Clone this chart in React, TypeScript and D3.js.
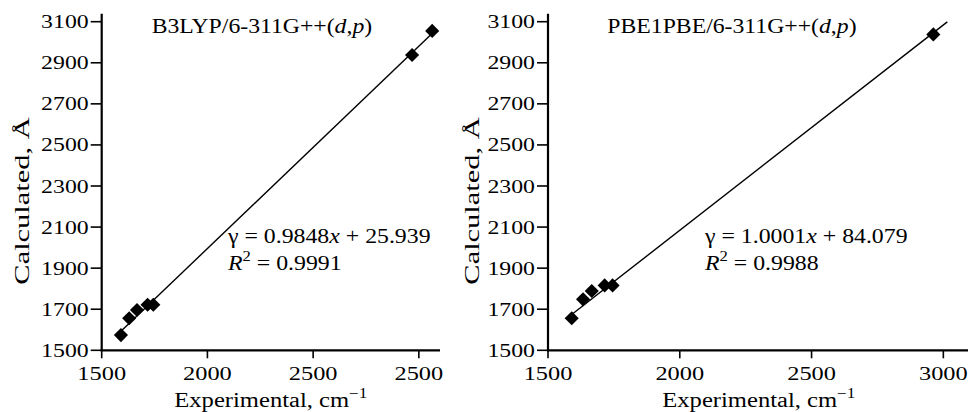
import React from 'react';
import * as d3 from 'd3';

const b3lypExp = [1591, 1630, 1667, 1717, 1744, 2968, 3063];
const b3lypCalc = [1574, 1656, 1696, 1722, 1722, 2938, 3055];
const pbeExp = [1590, 1633, 1666, 1715, 1745, 2962];
const pbeCalc = [1656, 1748, 1789, 1816, 1816, 3038];

// fit lines: slope, intercept, x extent
const b3lypFit = { slope: 0.9848, intercept: 25.939, from: 1591, to: 3085 };
const pbeFit = { slope: 1.0001, intercept: 84.079, from: 1590, to: 3015 };

const xTicks = [1500, 2000, 2500, 3000];
const leftXLabels = ['1500', '2000', '2500', '2500'];
const rightXLabels = ['1500', '2000', '2500', '3000'];
const yTicks = [1500, 1700, 1900, 2100, 2300, 2500, 2700, 2900, 3100];

const FONT = '"Liberation Serif", "Times New Roman", serif';

// text stretched horizontally like the scanned figure
function SText({ x, y, sx = 1, rotate = 0, size, anchor = 'start', children }: any) {
  const tf = `translate(${x},${y})${rotate ? ` rotate(${rotate})` : ''} scale(${sx},1)`;
  return (
    <text transform={tf} fontSize={size} textAnchor={anchor} fontFamily={FONT} fill="#000">
      {children}
    </text>
  );
}

interface PanelProps {
  exp: number[];
  calc: number[];
  fit: { slope: number; intercept: number; from: number; to: number };
  xRange: [number, number];
  xLabels: string[];
  title: string;
  titleX: number;
  eqX: number;
  yLabelX: number;
  eq: string;
  r2: string;
}

function Panel({ exp, calc, fit, xRange, xLabels, title, titleX, eqX, yLabelX, eq, r2 }: PanelProps) {
  const x = d3.scaleLinear().domain([1500, 3100]).range(xRange);
  const y = d3.scaleLinear().domain([1500, 3100]).range([350.3, 21.7]);
  const x0 = xRange[0];
  const y0 = y(1500);
  const diamond = d3.symbol(d3.symbolSquare, 100)()!;
  const line = d3.line<number>()
    .x(d => x(d))
    .y(d => y(fit.slope * d + fit.intercept));

  return (
    <g>
      {/* axes */}
      <line x1={x0} x2={x0} y1={y(3100) - 8} y2={y0 + 1} stroke="#000" strokeWidth={2.2} />
      <line x1={x0 - 1} x2={xRange[1]} y1={y0} y2={y0} stroke="#000" strokeWidth={2.2} />
      {yTicks.map(t => (
        <g key={'y' + t}>
          <line x1={x0 - 11} x2={x0} y1={y(t)} y2={y(t)} stroke="#000" strokeWidth={1.6} />
          <SText x={x0 - 13} y={y(t) + 6.5} sx={1.22} size={19.5} anchor="end">{t}</SText>
        </g>
      ))}
      {xTicks.map((t, i) => (
        <g key={'x' + t}>
          <line x1={x(t)} x2={x(t)} y1={y0} y2={y0 + 8} stroke="#000" strokeWidth={1.6} />
          <SText x={x(t)} y={379.5} sx={1.25} size={19.5} anchor="middle">{xLabels[i]}</SText>
        </g>
      ))}

      {/* fit line */}
      <path d={line([fit.from, fit.to]) || ''} fill="none" stroke="#000" strokeWidth={1.4} />

      {/* points */}
      {exp.map((e, i) => (
        <path key={i} d={diamond} transform={`translate(${x(e)},${y(calc[i])}) rotate(45)`} fill="#000" />
      ))}

      {/* labels */}
      <SText x={titleX} y={33.3} sx={1.13} size={21}>
        {title}(<tspan fontStyle="italic">d</tspan>,<tspan fontStyle="italic">p</tspan>)
      </SText>
      <SText x={eqX} y={243.3} sx={1.19} size={20}>
        γ = {eq.split('x')[0]}<tspan fontStyle="italic">x</tspan>{eq.split('x')[1]}
      </SText>
      <SText x={eqX} y={270} sx={1.19} size={20}>
        <tspan fontStyle="italic">R</tspan><tspan dy={-9} fontSize={14}>2</tspan><tspan dy={9}> = {r2}</tspan>
      </SText>
      <SText x={(xRange[0] + xRange[1]) / 2} y={406.5} sx={1.23} size={20} anchor="middle">
        Experimental, cm<tspan dy={-9} fontSize={14}>−1</tspan>
      </SText>
      <SText x={yLabelX} y={201} rotate={-90} sx={1.45} size={21} anchor="middle">
        Calculated, Å
      </SText>
    </g>
  );
}

export default function App() {
  return (
    <svg
      width={968}
      height={412}
      style={{ position: 'absolute', left: 0, top: 0, background: '#fff' }}
    >
      <Panel
        exp={b3lypExp}
        calc={b3lypCalc}
        fit={b3lypFit}
        xRange={[101.7, 440]}
        xLabels={leftXLabels}
        title="B3LYP/6-311G++"
        titleX={151.7}
        eqX={228}
        yLabelX={29}
        eq="0.9848x + 25.939"
        r2="0.9991"
      />
      <Panel
        exp={pbeExp}
        calc={pbeCalc}
        fit={pbeFit}
        xRange={[548, 969.7]}
        xLabels={rightXLabels}
        title="PBE1PBE/6-311G++"
        titleX={607.3}
        eqX={705}
        yLabelX={479}
        eq="1.0001x + 84.079"
        r2="0.9988"
      />
    </svg>
  );
}
